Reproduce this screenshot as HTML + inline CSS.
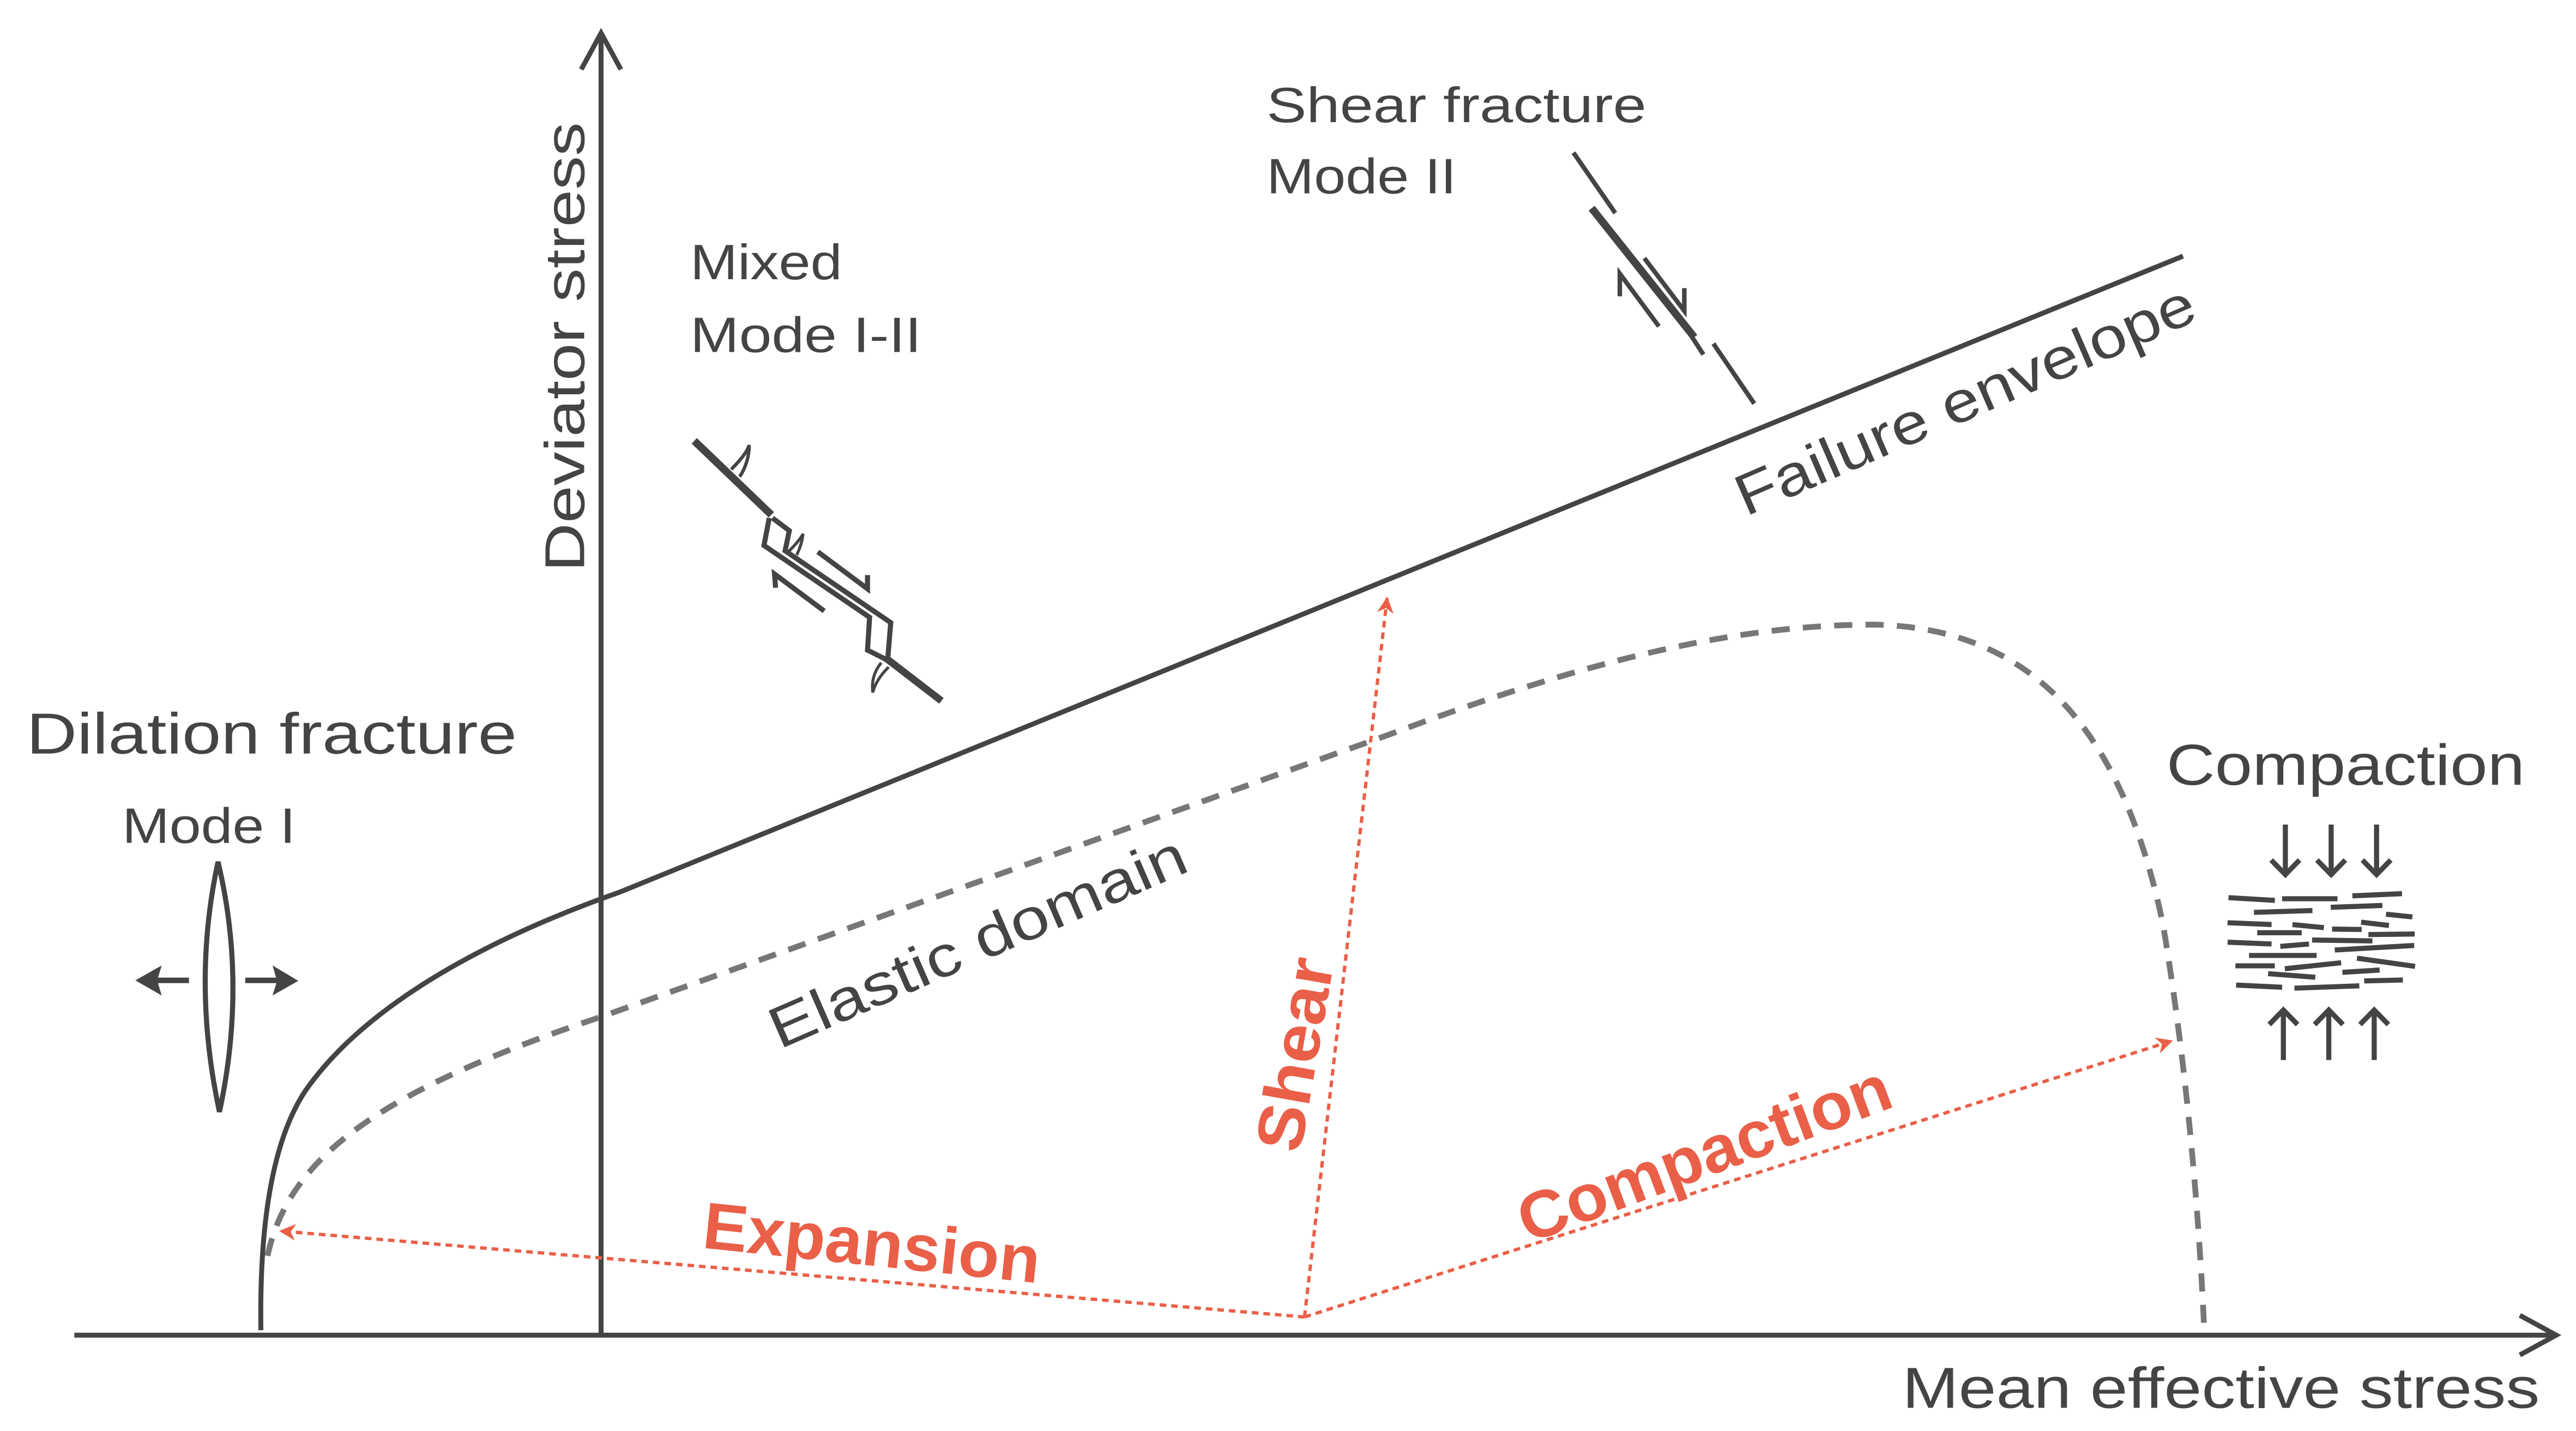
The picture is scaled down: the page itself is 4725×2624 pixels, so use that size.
<!DOCTYPE html>
<html><head><meta charset="utf-8"><style>
html,body{margin:0;padding:0;background:#fff;}
svg{display:block}
text{font-family:"Liberation Sans",sans-serif;fill:#444;}
.r{fill:#ea5f48;font-weight:bold;}
</style></head><body>
<svg width="4725" height="2624" viewBox="0 0 1560 866" preserveAspectRatio="none" xmlns="http://www.w3.org/2000/svg">
<defs>
<marker id="ra" markerWidth="10" markerHeight="10" refX="9" refY="5" orient="auto" markerUnits="userSpaceOnUse">
<path d="M0,0 L10,5 L0,10 L3,5 Z" fill="#ea5f48"/>
</marker>
</defs>
<g stroke="#444" fill="none" stroke-width="3">
<line x1="45" y1="808" x2="1548" y2="808"/>
<polyline points="1526,796 1548,808 1526,820"/>
<line x1="364" y1="808" x2="364" y2="20"/>
<polyline points="352,42 364,20 376,42"/>
<path d="M158,805 C157,740 165,690 185,660 C220,610 290,570 375,540 L1322,155"/>
</g>
<path d="M162,760 C175,700 230,660 365,615 L840,445 C960,400 1050,378 1135,378 C1230,380 1285,440 1310,560 C1325,650 1332,740 1335,808" stroke="#777" stroke-width="3.5" fill="none" stroke-dasharray="11,8"/>
<g stroke="#ea5f48" stroke-width="2" fill="none" stroke-dasharray="4,3">
<line x1="790" y1="797" x2="170" y2="745" marker-end="url(#ra)"/>
<line x1="790" y1="797" x2="840" y2="362" marker-end="url(#ra)"/>
<line x1="790" y1="797" x2="1315" y2="630" marker-end="url(#ra)"/>
</g>
<g transform="scale(0.3301) translate(200 1550) scale(0.3333)">
<path d="M600,90 Q455,760 608,1465 Q760,760 600,90 Z" stroke="#444" stroke-width="28" fill="none"/>
<line x1="440" y1="742" x2="260" y2="742" stroke="#444" stroke-width="30"/>
<polygon points="145,742 290,660 265,742 290,825" fill="#444"/>
<line x1="750" y1="742" x2="930" y2="742" stroke="#444" stroke-width="30"/>
<polygon points="1042,745 900,660 925,745 900,825" fill="#444"/>
</g>
<g transform="scale(0.3301) translate(1200 750) scale(0.3876)" stroke="#444" fill="none" stroke-linejoin="miter">
<line x1="190" y1="150" x2="555" y2="500" stroke-width="36"/>
<polyline points="545,515 520,645 1020,985 1010,1140 1110,1190" stroke-width="24"/>
<polyline points="560,515 640,575 620,670 1120,1010 1105,1190" stroke-width="24"/>
<line x1="1100" y1="1180" x2="1360" y2="1380" stroke-width="34"/>
<polyline points="775,675 1010,850 1010,785" stroke-width="24"/>
<polyline points="805,955 570,780 575,845" stroke-width="24"/>
<path d="M365,285 Q440,210 450,170 Q450,250 405,320" stroke-width="16"/>
<path d="M640,670 Q690,620 705,590 Q700,640 675,690" stroke-width="14"/>
<path d="M1110,1220 Q1050,1280 1035,1340 Q1025,1260 1075,1200" stroke-width="14"/>
</g>
<g transform="scale(0.3301) translate(2880 270) scale(0.3333)" stroke="#444" fill="none">
<line x1="20" y1="30" x2="250" y2="362" stroke-width="25"/>
<line x1="120" y1="335" x2="685" y2="1045" stroke-width="42"/>
<line x1="670" y1="1040" x2="735" y2="1140" stroke-width="25"/>
<polyline points="410,610 630,900 630,775" stroke-width="25"/>
<polyline points="490,985 275,695 275,820" stroke-width="25"/>
<line x1="790" y1="1080" x2="1015" y2="1410" stroke-width="25"/>
</g>
<g transform="scale(0.3301) translate(4050 1480) scale(0.3333)" stroke="#444" fill="none" stroke-width="28">
<line x1="428" y1="95" x2="428" y2="370"/><polyline points="350,290 428,370 506,290"/>
<line x1="680" y1="95" x2="680" y2="370"/><polyline points="602,290 680,370 758,290"/>
<line x1="930" y1="95" x2="930" y2="370"/><polyline points="852,290 930,370 1008,290"/>
<line x1="417" y1="1390" x2="417" y2="1115"/><polyline points="339,1195 417,1115 495,1195"/>
<line x1="667" y1="1390" x2="667" y2="1115"/><polyline points="589,1195 667,1115 745,1195"/>
<line x1="917" y1="1390" x2="917" y2="1115"/><polyline points="839,1195 917,1115 995,1195"/>
<line x1="115" y1="497" x2="370" y2="512"/><line x1="410" y1="503" x2="715" y2="503"/><line x1="797" y1="487" x2="1070" y2="475"/>
<line x1="255" y1="578" x2="577" y2="568"/><line x1="678" y1="550" x2="962" y2="540"/><line x1="982" y1="588" x2="1127" y2="603"/>
<line x1="110" y1="635" x2="352" y2="645"/><line x1="467" y1="645" x2="640" y2="662"/><line x1="685" y1="670" x2="848" y2="672"/><line x1="845" y1="632" x2="998" y2="650"/>
<line x1="273" y1="690" x2="518" y2="690"/><line x1="885" y1="700" x2="1140" y2="697"/><line x1="110" y1="742" x2="352" y2="752"/><line x1="575" y1="730" x2="907" y2="735"/><line x1="400" y1="765" x2="558" y2="752"/>
<line x1="228" y1="815" x2="600" y2="815"/><line x1="700" y1="785" x2="1137" y2="760"/><line x1="153" y1="872" x2="370" y2="872"/><line x1="425" y1="888" x2="735" y2="855"/><line x1="822" y1="830" x2="1142" y2="875"/>
<line x1="333" y1="915" x2="593" y2="935"/><line x1="742" y1="908" x2="947" y2="895"/><line x1="157" y1="978" x2="410" y2="990"/><line x1="478" y1="995" x2="835" y2="982"/><line x1="862" y1="955" x2="1075" y2="950"/>
</g>
<text x="0" y="0" font-size="34" text-anchor="middle" dominant-baseline="central" textLength="272" lengthAdjust="spacingAndGlyphs" transform="translate(342 210) rotate(-90)">Deviator stress</text>
<text x="418" y="169" font-size="30" textLength="92" lengthAdjust="spacingAndGlyphs">Mixed</text>
<text x="418" y="213" font-size="30" textLength="140" lengthAdjust="spacingAndGlyphs">Mode I-II</text>
<text x="767" y="74" font-size="30" textLength="230" lengthAdjust="spacingAndGlyphs">Shear fracture</text>
<text x="767" y="117" font-size="30" textLength="115" lengthAdjust="spacingAndGlyphs">Mode II</text>
<text x="16" y="456" font-size="35" textLength="297" lengthAdjust="spacingAndGlyphs">Dilation fracture</text>
<text x="74" y="510" font-size="30" textLength="105" lengthAdjust="spacingAndGlyphs">Mode I</text>
<text x="1312" y="475" font-size="35" textLength="217" lengthAdjust="spacingAndGlyphs">Compaction</text>
<text x="1152" y="852" font-size="35" textLength="386" lengthAdjust="spacingAndGlyphs">Mean effective stress</text>
<text x="0" y="0" font-size="35" text-anchor="middle" dominant-baseline="central" textLength="300" lengthAdjust="spacingAndGlyphs" transform="translate(1190 242) rotate(-23.5)">Failure envelope</text>
<text x="0" y="0" font-size="35" text-anchor="middle" dominant-baseline="central" textLength="272" lengthAdjust="spacingAndGlyphs" transform="translate(592 570) rotate(-23.5)">Elastic domain</text>
<text class="r" x="0" y="0" font-size="40" text-anchor="middle" dominant-baseline="central" textLength="205" lengthAdjust="spacingAndGlyphs" transform="translate(528 752) rotate(6)">Expansion</text>
<text class="r" x="0" y="0" font-size="40" text-anchor="middle" dominant-baseline="central" textLength="118" lengthAdjust="spacingAndGlyphs" transform="translate(784 638) rotate(-80)">Shear</text>
<text class="r" x="0" y="0" font-size="40" text-anchor="middle" dominant-baseline="central" textLength="238" lengthAdjust="spacingAndGlyphs" transform="translate(1032 698) rotate(-20.5)">Compaction</text>
</svg>
</body></html>
